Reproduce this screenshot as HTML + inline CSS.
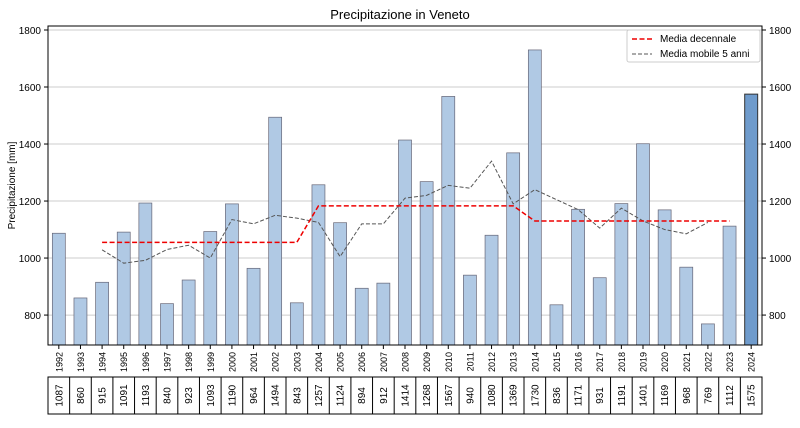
<!DOCTYPE html>
<html><head><meta charset="utf-8"><style>
body{margin:0;background:#fff;font-family:"Liberation Sans",sans-serif}
</style></head><body>
<svg id="c" width="800" height="423" xmlns="http://www.w3.org/2000/svg" font-family="Liberation Sans, sans-serif"></svg>
<script>
const years=[1992,1993,1994,1995,1996,1997,1998,1999,2000,2001,2002,2003,2004,2005,2006,2007,2008,2009,2010,2011,2012,2013,2014,2015,2016,2017,2018,2019,2020,2021,2022,2023,2024];
const values=[1087,860,915,1091,1193,840,923,1093,1190,964,1494,843,1257,1124,894,912,1414,1268,1567,940,1080,1369,1730,836,1171,931,1191,1401,1169,968,769,1112,1575];
const maYears=[1994,1995,1996,1997,1998,1999,2000,2001,2002,2003,2004,2005,2006,2007,2008,2009,2010,2011,2012,2013,2014,2015,2016,2017,2018,2019,2020,2021,2022];
const maValues=[1029,982,992,1030,1045,1000,1135,1120,1150,1140,1125,1005,1120,1120,1210,1220,1255,1245,1340,1190,1240,1205,1170,1105,1175,1130,1100,1085,1125];
const decYears=[1994,1995,1996,1997,1998,1999,2000,2001,2002,2003,2004,2005,2006,2007,2008,2009,2010,2011,2012,2013,2014,2015,2016,2017,2018,2019,2020,2021,2022,2023];
const decValues=[1055,1055,1055,1055,1055,1055,1055,1055,1055,1055,1183,1183,1183,1183,1183,1183,1183,1183,1183,1183,1130,1130,1130,1130,1130,1130,1130,1130,1130,1130];
const yTicks=[800,1000,1200,1400,1600,1800];

const svg=document.getElementById('c');const NS='http://www.w3.org/2000/svg';
const L=48,R=762,T=26,B=345,ymin=695,ymax=1814;
const step=(R-L)/years.length;
const x=yr=>L+(yr-years[0]+0.5)*step;
const y=v=>B-(v-ymin)/(ymax-ymin)*(B-T);
function mk(tag,at,name,txt){const e=document.createElementNS(NS,tag);for(const k in at)e.setAttribute(k,at[k]);


if(txt!==undefined)e.textContent=txt;svg.appendChild(e);return e;}
mk('text',{x:400,y:19,'text-anchor':'middle','font-size':13},'chart-title','Precipitazione in Veneto');
yTicks.forEach(t=>{const yy=y(t);
mk('line',{x1:L,x2:R,y1:yy,y2:yy,stroke:'#ccc','stroke-width':1},'grid-line');
mk('line',{x1:L-4,x2:L,y1:yy,y2:yy,stroke:'#000'},'y-tick');
mk('line',{x1:R,x2:R+4,y1:yy,y2:yy,stroke:'#000'},'y-tick-right');
mk('text',{x:L-7,y:yy+4,'text-anchor':'end','font-size':10},'y-tick-label',t);
mk('text',{x:R+7,y:yy+4,'font-size':10},'y-tick-label-right',t);});
mk('text',{x:15,y:(T+B)/2,'text-anchor':'middle','font-size':10,transform:`rotate(-90 15 ${(T+B)/2})`},'y-axis-title','Precipitazione [mm]');
const bw=step*0.6;
years.forEach((yr,i)=>{const last=i===years.length-1;
mk('rect',{x:x(yr)-bw/2,y:y(values[i]),width:bw,height:B-y(values[i]),fill:last?'#6f9bcc':'#b0c9e4',stroke:last?'#333':'#667',
'stroke-width':last?1:0.7},'bar-'+yr);
mk('line',{x1:x(yr),x2:x(yr),y1:B,y2:B+4,stroke:'#000'},'x-tick');
mk('text',{x:x(yr)+3.5,y:B+7,'text-anchor':'end','font-size':9,transform:`rotate(-90 ${x(yr)+3.5} ${B+7})`},'x-tick-label',yr);
});
mk('rect',{x:L,y:T,width:R-L,height:B-T,fill:'none',stroke:'#000'},'plot-frame');
mk('polyline',{points:maYears.map((yr,i)=>x(yr)+','+y(maValues[i])).join(' '),fill:'none',stroke:'#555','stroke-width':1,'stroke-dasharray':'4,2'},'moving-average-line');
mk('polyline',{points:decYears.map((yr,i)=>x(yr)+','+y(decValues[i])).join(' '),fill:'none',stroke:'#e00','stroke-width':1.5,'stroke-dasharray':'5,2.5'},'decadal-mean-line');
// legend
mk('rect',{x:627,y:30,width:133,height:32,fill:'#fff',stroke:'#ccc',rx:2},'legend');
mk('line',{x1:632,x2:652,y1:39,y2:39,stroke:'#e00','stroke-width':1.5,'stroke-dasharray':'5,2.5'},'legend-swatch-decadal');
mk('text',{x:660,y:42,'font-size':10},'legend-entry-decadal','Media decennale');
mk('line',{x1:632,x2:652,y1:54,y2:54,stroke:'#555','stroke-width':1,'stroke-dasharray':'4,2'},'legend-swatch-moving');
mk('text',{x:660,y:57,'font-size':10},'legend-entry-moving','Media mobile 5 anni');
// table
mk('rect',{x:L,y:377,width:R-L,height:37,fill:'none',stroke:'#000'},'value-table');
years.forEach((yr,i)=>{const cx=L+i*step;
if(i>0)mk('line',{x1:cx,x2:cx,y1:377,y2:414,stroke:'#000'},'table-divider');
mk('text',{x:x(yr)+3.5,y:395.5,'text-anchor':'middle','font-size':10,transform:`rotate(-90 ${x(yr)+3.5} 395.5)`},'table-value-'+yr,values[i]);});
</script>
</body></html>
